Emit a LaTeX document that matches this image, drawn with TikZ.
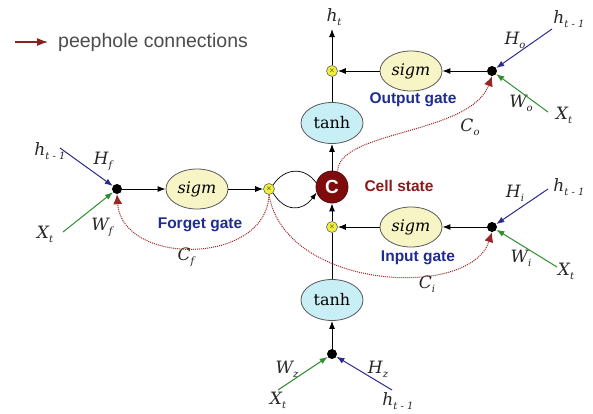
\documentclass[tikz,border=0pt]{standalone}
\usepackage{fontspec}
\setmainfont{DejaVu Serif}
\newfontfamily\sansf{Liberation Sans}
\usetikzlibrary{shapes.geometric,arrows.meta}
\definecolor{sigfill}{HTML}{F7F4C6}
\definecolor{tanhfill}{HTML}{C8EFF5}
\definecolor{multfill}{HTML}{F2EE3C}
\definecolor{cellfill}{HTML}{7E0C0C}
\definecolor{bluel}{HTML}{2B2B8C}
\definecolor{greenl}{HTML}{2F8F2F}
\definecolor{peepc}{HTML}{9B2424}
\definecolor{gatec}{HTML}{1F2D8F}
\definecolor{cellc}{HTML}{8B1A1A}
\definecolor{labc}{HTML}{262626}
\newcommand\lbl[2]{{\itshape #1\raisebox{-0.45ex}{\fontsize{10}{10}\selectfont #2}}}
\tikzset{
  sigmbox/.style={ellipse, draw=black!65, line width=0.8pt, fill=sigfill, minimum width=62pt, minimum height=40pt, inner sep=0pt, font=\fontsize{16}{16}\selectfont\itshape},
  tanhbox/.style={ellipse, draw=black!65, line width=0.8pt, fill=tanhfill, minimum width=62pt, minimum height=41pt, inner sep=0pt, font=\fontsize{16}{16}\selectfont},
  multc/.style={circle, draw=black!60, line width=0.6pt, fill=multfill, minimum size=11pt, inner sep=0pt, font=\fontsize{7}{7}\selectfont},
  junc/.style={circle, fill=black, minimum size=10pt, inner sep=0pt},
  cellnode/.style={circle, draw=cellfill!70!black, line width=0.8pt, fill=cellfill, minimum size=32pt, inner sep=0pt, text=white, font=\sansf\bfseries\fontsize{19}{19}\selectfont},
  arr/.style={-{Latex[length=8pt,width=6pt]}},
  mainline/.style={draw=black, line width=1pt},
  bluearr/.style={draw=bluel, line width=1pt, -{Latex[length=8pt,width=6pt]}},
  greenarr/.style={draw=greenl, line width=1pt, -{Latex[length=8pt,width=6pt]}},
  peep/.style={draw=peepc, line width=1pt, densely dotted, -{Latex[length=10pt,width=9pt]}},
  loopline/.style={draw=black, line width=0.7pt},
  gatelbl/.style={text=gatec, font=\sansf\bfseries\fontsize{15.5}{15.5}\selectfont},
  mlbl/.style={text=labc, font=\fontsize{17}{17}\selectfont, inner sep=0pt},
}
\begin{document}
\begin{tikzpicture}[x=1pt,y=-1pt]
\useasboundingbox[fill=white] (0,0) rectangle (593,413);

% legend
\coordinate (lg1) at (15,42);
\coordinate (lg2) at (48,42);
\draw[draw=peepc!90!black, line width=1.2pt, -{Latex[length=11pt,width=8pt]}] (lg1) -- (lg2);
\node[anchor=west, text=black!70, font=\sansf\fontsize{19.5}{19.5}\selectfont, inner sep=0pt] (legtxt) at (58,42) {peephole connections};

% nodes
\node[junc] (oj) at (492,71) {};
\node[sigmbox] (os) at (411,71) {sigm};
\node[multc] (om) at (332,71) {$\times$};
\node[tanhbox] (tt) at (332,123) {tanh};
\node[cellnode] (cell) at (332,187) {C};
\node[junc] (fj) at (117,189) {};
\node[sigmbox] (fs) at (197,189) {sigm};
\node[multc] (fm) at (269,189) {$\times$};
\node[multc] (im) at (332,227) {$\times$};
\node[sigmbox] (is) at (411,227) {sigm};
\node[junc] (ij) at (492,227) {};
\node[tanhbox] (bt) at (332,300) {tanh};
\node[junc] (bj) at (332,354) {};

% text labels
\node[mlbl] (ht) at (334,17) {\lbl{h}{t}};
\coordinate (httip) at (332,29);
\node[gatelbl, text=cellc, anchor=west] (cs) at (361,186) {Cell state};
\node[gatelbl] (og) at (413,100) {Output gate};
\node[gatelbl] (fg) at (200,225) {Forget gate};
\node[gatelbl] (ig) at (418,258) {Input gate};

\node[mlbl] (hto) at (569,19) {\lbl{h}{t - 1}};
\node[mlbl] (Ho) at (515,40) {\lbl{H}{o}};
\node[mlbl] (Wo) at (521,103) {\lbl{W}{o}};
\node[mlbl] (Xo) at (564,115) {\lbl{X}{t}};
\node[mlbl] (Co) at (470,127) {\lbl{C}{o}};

\node[mlbl] (htf) at (50,151) {\lbl{h}{t - 1}};
\node[mlbl] (Hf) at (103,161) {\lbl{H}{f}};
\node[mlbl] (Xf) at (45,234) {\lbl{X}{t}};
\node[mlbl] (Wf) at (102,227) {\lbl{W}{f}};
\node[mlbl] (Cf) at (186,257) {\lbl{C}{f}};

\node[mlbl] (hti) at (569,187) {\lbl{h}{t - 1}};
\node[mlbl] (Hi) at (515,193) {\lbl{H}{i}};
\node[mlbl] (Wi) at (521,258) {\lbl{W}{i}};
\node[mlbl] (Xi) at (566,271) {\lbl{X}{t}};
\node[mlbl] (Ci) at (427,284) {\lbl{C}{i}};

\node[mlbl] (Wz) at (287,369) {\lbl{W}{z}};
\node[mlbl] (Xz) at (278,400) {\lbl{X}{t}};
\node[mlbl] (Hz) at (378,369) {\lbl{H}{z}};
\node[mlbl] (htz) at (398,401) {\lbl{h}{t - 1}};

% main flow
\draw[mainline, arr] (om) -- (httip);
\draw[mainline, arr] (oj) -- (os);
\draw[mainline, arr] (os) -- (om);
\draw[mainline] (tt) -- (om);
\draw[mainline, arr] (cell) -- (tt);
\draw[mainline, arr] (im) -- (cell);
\draw[mainline] (bt) -- (im);
\draw[mainline, arr] (bj) -- (bt);
\draw[mainline, arr] (ij) -- (is);
\draw[mainline, arr] (is) -- (im);
\draw[mainline, arr] (fj) -- (fs);
\draw[mainline, arr] (fs) -- (fm);

% self loop
\draw[loopline] (fm.north east) .. controls (285,167) and (305,167) .. (cell.165);
\draw[loopline, -{Latex[length=7pt,width=5pt]}] (fm.south east) .. controls (285,212) and (302,212) .. (cell.200);

% inputs
\coordinate (hos) at (552,29);
\coordinate (xos) at (548,112);
\coordinate (hfs) at (60,148);
\coordinate (xfs) at (63,232);
\coordinate (his) at (548,189);
\coordinate (xis) at (557,267);
\coordinate (xzs) at (278,390);
\coordinate (hzs) at (392,390);
\draw[bluearr] (hos) -- (oj);
\draw[greenarr] (xos) -- (oj);
\draw[bluearr] (hfs) -- (fj);
\draw[greenarr] (xfs) -- (fj);
\draw[bluearr] (his) -- (ij);
\draw[greenarr] (xis) -- (ij);
\draw[greenarr] (xzs) -- (bj);
\draw[bluearr] (hzs) -- (bj);

% peephole connections
\draw[peep] (fm.south) .. controls (266,266) and (122,266) .. (fj.south);
\draw[peep] (fm.south) .. controls (285,290) and (470,300) .. (ij.south);
\draw[peep] (cell.70) .. controls (338,130) and (470,135) .. (oj.south);
\end{tikzpicture}
\end{document}
